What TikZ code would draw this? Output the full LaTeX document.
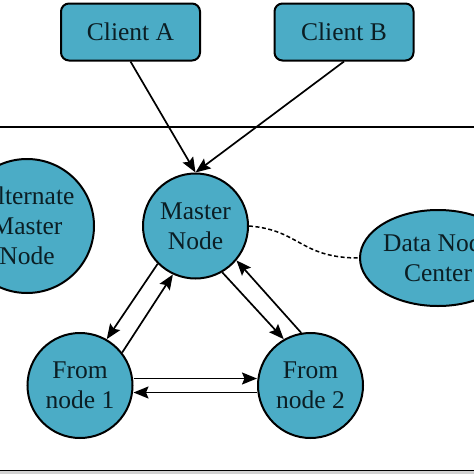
\documentclass[tikz,border=0pt]{standalone}
\usepackage{fontspec}
\setmainfont{Liberation Serif}
\usetikzlibrary{arrows.meta,shapes.geometric}
\definecolor{nodefill}{HTML}{4BACC6}
\definecolor{txt}{HTML}{0B1E24}
\begin{document}
\begin{tikzpicture}[x=1pt,y=-1pt,
  every node/.style={font=\fontsize{25.5}{30}\selectfont, text=txt, align=center, inner sep=0pt},
  clientbox/.style={draw=black, line width=2pt, fill=nodefill, rounded corners=8pt, minimum width=139pt, minimum height=57pt},
  roundnode/.style={draw=black, line width=2pt, fill=nodefill, circle, minimum size=105pt},
  ovalnode/.style={draw=black, line width=2pt, fill=nodefill, ellipse},
  conn/.style={line width=1.7pt, -{Stealth[length=15pt,width=12pt,inset=2.5pt]}}
]
\useasboundingbox (0,0) rectangle (474,474);
\fill[gray!35] (-5,471) rectangle (480,480);
\draw[line width=1.6pt] (-5,127) rectangle (480,470.5);

\node[clientbox] (ca) at (130.5,32) {Client A};
\node[clientbox] (cb) at (344,32) {Client B};

\node[roundnode] (master) at (195.5,226) {Master\\Node};
\node[roundnode, minimum size=134pt] (alt) at (27,226) {Alternate\\Master\\Node};
\node[ovalnode, minimum width=156pt, minimum height=96pt] (data) at (438,258) {Data Node\\Center};
\node[roundnode] (f1) at (80,385.5) {From\\node 1};
\node[roundnode] (f2) at (310.5,385.5) {From\\node 2};

\draw[conn] (ca.south) -- (master.north);
\draw[conn] (cb.south) -- (master.north);

\draw[conn] (master.-135) -- (f1.60);
\draw[conn] (f1.38) -- (master.-115);
\draw[conn] (master.-60) -- (f2.120);
\draw[conn] (f2.100) -- (master.-40);

\draw[conn] (f1.east) ++(0,-7) coordinate (a1) -- (a1 -| f2.west);
\draw[conn] (f2.west) ++(0,7) coordinate (a2) -- (a2 -| f1.east);

\draw[line width=1.5pt, dash pattern=on 4pt off 2.5pt] (master.east) .. controls (300,230) and (300,258) .. (data.west);
\end{tikzpicture}
\end{document}
